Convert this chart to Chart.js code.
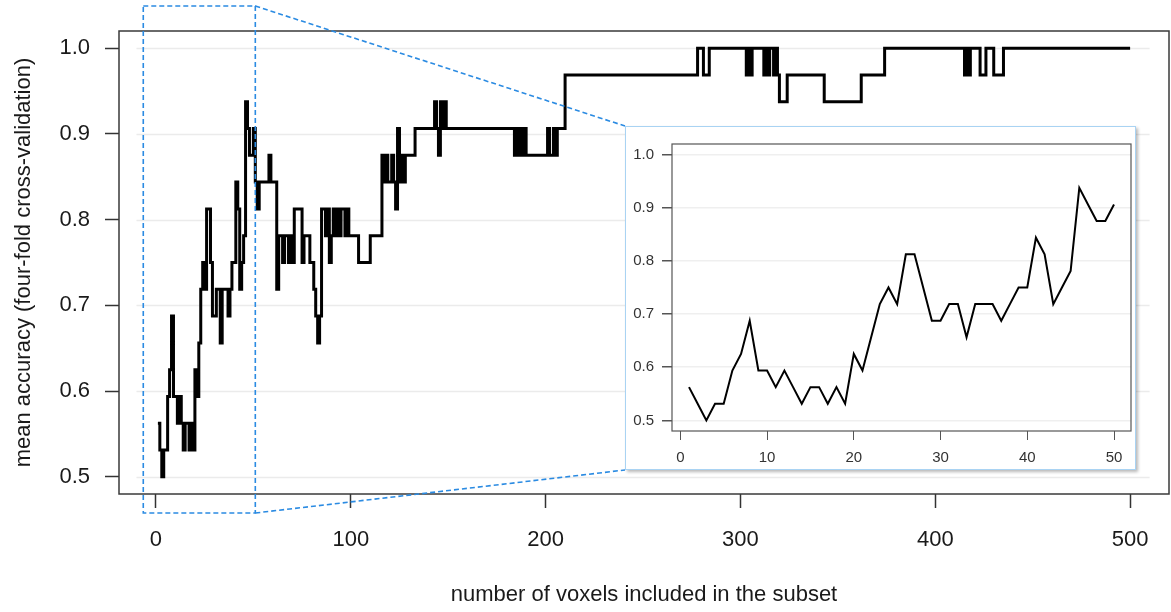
<!DOCTYPE html>
<html>
<head>
<meta charset="utf-8">
<script src="https://cdn.jsdelivr.net/npm/chart.js@4"></script>
<style>
  html, body { margin: 0; padding: 0; background: #fff; }
  #wrap { position: relative; width: 1171px; height: 612px; overflow: hidden; }
  #mainCanvas { position: absolute; left: 0; top: 0; }
  #inset {
    position: absolute; left: 625px; top: 126px; width: 509px; height: 342px;
    border: 1px solid #a9d3f3; background: #fff;
    box-shadow: 2px 2px 3px rgba(0, 0, 0, 0.28);
  }
</style>
</head>
<body>
<div id="wrap">
  <canvas id="mainCanvas" width="1171" height="612"></canvas>
  <div id="inset"><canvas id="insetCanvas" width="509" height="342"></canvas></div>
</div>
<script>
// accuracy for the first 50 voxels (shown in the inset and at the start of the main plot)
const insetAcc = [
  0.5625, 0.53125, 0.5, 0.53125, 0.53125, 0.59375, 0.625, 0.6875, 0.59375, 0.59375,
  0.5625, 0.59375, 0.5625, 0.53125, 0.5625, 0.5625, 0.53125, 0.5625, 0.53125, 0.625,
  0.59375, 0.65625, 0.71875, 0.75, 0.71875, 0.8125, 0.8125, 0.75, 0.6875, 0.6875,
  0.71875, 0.71875, 0.65625, 0.71875, 0.71875, 0.71875, 0.6875, 0.71875, 0.75, 0.75,
  0.84375, 0.8125, 0.71875, 0.75, 0.78125, 0.9375, 0.90625, 0.875, 0.875, 0.90625
];

// from voxel 51 on: subset size where the accuracy changes, and the new accuracy
const stepX = [
  51, 52, 53, 58, 59, 62, 63, 65, 66, 68, 69, 70, 71, 75, 76, 79, 81, 82, 83, 84,
  85, 87, 88, 89, 90, 91, 92, 93, 94, 95, 97, 98, 99, 104, 110, 116, 117, 118, 119, 121,
  122, 123, 124, 125, 126, 127, 128, 133, 143, 144, 145, 146, 147, 148, 149, 184, 185, 186, 187, 188,
  189, 190, 201, 202, 204, 205, 206, 210, 278, 281, 284, 303, 304, 305, 306, 312, 313, 314, 315, 317,
  318, 319, 320, 324, 343, 362, 374, 415, 416, 417, 418, 423, 426, 430, 435, 500
];
const stepAcc = [
  0.84375, 0.8125, 0.84375, 0.875, 0.84375, 0.71875, 0.78125, 0.75, 0.78125, 0.75, 0.78125, 0.75, 0.8125, 0.75, 0.78125, 0.75, 0.71875, 0.6875, 0.65625, 0.6875,
  0.8125, 0.78125, 0.8125, 0.75, 0.78125, 0.8125, 0.78125, 0.8125, 0.78125, 0.8125, 0.78125, 0.8125, 0.78125, 0.75, 0.78125, 0.875, 0.84375, 0.875, 0.84375, 0.875,
  0.84375, 0.8125, 0.90625, 0.84375, 0.875, 0.84375, 0.875, 0.90625, 0.9375, 0.90625, 0.875, 0.9375, 0.90625, 0.9375, 0.90625, 0.875, 0.90625, 0.875, 0.90625, 0.875,
  0.90625, 0.875, 0.90625, 0.875, 0.90625, 0.875, 0.90625, 0.96875, 1.0, 0.96875, 1.0, 0.96875, 1.0, 0.96875, 1.0, 0.96875, 1.0, 0.96875, 1.0, 0.96875,
  1.0, 0.96875, 0.9375, 0.96875, 0.9375, 0.96875, 1.0, 0.96875, 1.0, 0.96875, 1.0, 0.96875, 1.0, 0.96875, 1.0, 1.0
];

const mainXTicks = [0, 100, 200, 300, 400, 500];
const insetXTicks = [0, 10, 20, 30, 40, 50];
const yTicks = [0.5, 0.6, 0.7, 0.8, 0.9, 1.0];

const xTitle = 'number of voxels included in the subset';
const yTitle = 'mean accuracy (four-fold cross-validation)';

const FONT = "'Liberation Sans', Arial, sans-serif";

const insetPoints = insetAcc.map((v, i) => ({ x: i + 1, y: v }));
const mainPoints = insetPoints.concat(stepX.map((x, i) => ({ x: x, y: stepAcc[i] })));

const setTicks = list => scale => { scale.ticks = list.map(v => ({ value: v })); };

// box around the plot region
const frame = (color, width) => ({
  id: 'frame',
  afterDraw(chart) {
    const { ctx, chartArea: a } = chart;
    ctx.save();
    ctx.strokeStyle = color;
    ctx.lineWidth = width;
    ctx.strokeRect(a.left, a.top, a.right - a.left, a.bottom - a.top);
    ctx.restore();
  }
});

// light horizontal guide lines in the main plot (a bit shorter than the frame)
const mainGrid = {
  id: 'mainGrid',
  beforeDatasetsDraw(chart) {
    const { ctx, scales: { x, y } } = chart;
    ctx.save();
    ctx.strokeStyle = '#ebebeb';
    ctx.lineWidth = 1.5;
    yTicks.forEach(v => {
      const py = Math.round(y.getPixelForValue(v)) + 0.5;
      ctx.beginPath();
      ctx.moveTo(x.getPixelForValue(-10), py);
      ctx.lineTo(x.getPixelForValue(510), py);
      ctx.stroke();
    });
    ctx.restore();
  }
};

// dashed zoom marker over the first 50 voxels, joined to the inset
const zoomMark = {
  id: 'zoomMark',
  afterDraw(chart) {
    const { ctx, chartArea: a, scales: { x } } = chart;
    const box = document.getElementById('inset');
    const l = x.getPixelForValue(-6.5), r = x.getPixelForValue(51);
    const t = a.top - 25, b = a.bottom + 19;
    const bx = box.offsetLeft, by1 = box.offsetTop, by2 = box.offsetTop + box.offsetHeight;
    ctx.save();
    ctx.strokeStyle = '#2b8be2';
    ctx.lineWidth = 1.6;
    ctx.setLineDash([5, 3]);
    ctx.strokeRect(l, t, r - l, b - t);
    ctx.beginPath();
    ctx.moveTo(r, t); ctx.lineTo(bx, by1);
    ctx.moveTo(r, b); ctx.lineTo(bx, by2);
    ctx.stroke();
    ctx.restore();
  }
};

const mainFont = { family: FONT, size: 22 };

new Chart(document.getElementById('mainCanvas'), {
  type: 'line',
  data: {
    datasets: [{
      data: mainPoints,
      stepped: 'before',
      borderColor: '#000',
      borderWidth: 3,
      pointRadius: 0,
      fill: false
    }]
  },
  options: {
    responsive: false,
    animation: false,
    layout: { padding: { top: 31, right: 2, left: 0, bottom: 0 } },
    plugins: { legend: { display: false }, tooltip: { enabled: false } },
    scales: {
      x: {
        type: 'linear',
        min: -18.96,
        max: 519.96,
        afterBuildTicks: setTicks(mainXTicks),
        afterFit: s => { s.height = 118; },
        border: { display: false },
        grid: { drawOnChartArea: false, tickLength: 14, tickColor: '#333', tickWidth: 1.5 },
        ticks: { font: mainFont, color: '#1a1a1a', padding: 19, maxRotation: 0, autoSkip: false },
        title: { display: true, text: xTitle, font: mainFont, color: '#1a1a1a', padding: { top: 0, bottom: 4 } }
      },
      y: {
        min: 0.48,
        max: 1.02,
        afterBuildTicks: setTicks(yTicks),
        afterFit: s => { s.width = 119; },
        border: { display: false },
        grid: { drawOnChartArea: false, tickLength: 14, tickColor: '#333', tickWidth: 1.5 },
        ticks: { font: mainFont, color: '#1a1a1a', padding: 15, callback: v => v.toFixed(1) },
        title: { display: true, text: yTitle, font: mainFont, color: '#1a1a1a', padding: { top: 11, bottom: 0 } }
      }
    }
  },
  plugins: [mainGrid, frame('#3a3a3a', 1.5), zoomMark]
});

const insetFont = { family: FONT, size: 15 };

new Chart(document.getElementById('insetCanvas'), {
  type: 'line',
  data: {
    datasets: [{
      data: insetPoints,
      borderColor: '#000',
      borderWidth: 2,
      pointRadius: 0,
      tension: 0,
      fill: false
    }]
  },
  options: {
    responsive: false,
    animation: false,
    layout: { padding: { top: 7, right: 4, left: 0, bottom: 0 } },
    plugins: { legend: { display: false }, tooltip: { enabled: false } },
    scales: {
      x: {
        type: 'linear',
        min: -0.96,
        max: 51.96,
        afterBuildTicks: setTicks(insetXTicks),
        afterFit: s => { s.height = 38; },
        border: { display: false },
        grid: { drawOnChartArea: false, tickLength: 9, tickColor: '#555' },
        ticks: { font: insetFont, color: '#333', padding: 9, maxRotation: 0, autoSkip: false }
      },
      y: {
        min: 0.48,
        max: 1.02,
        afterBuildTicks: setTicks(yTicks),
        afterFit: s => { s.width = 46; },
        border: { display: false },
        grid: { color: '#efefef', lineWidth: 1.5, tickLength: 10, tickColor: '#555' },
        ticks: { font: insetFont, color: '#333', padding: 8, callback: v => v.toFixed(1) }
      }
    }
  },
  plugins: [frame('#555', 1.2)]
});
</script>
</body>
</html>
